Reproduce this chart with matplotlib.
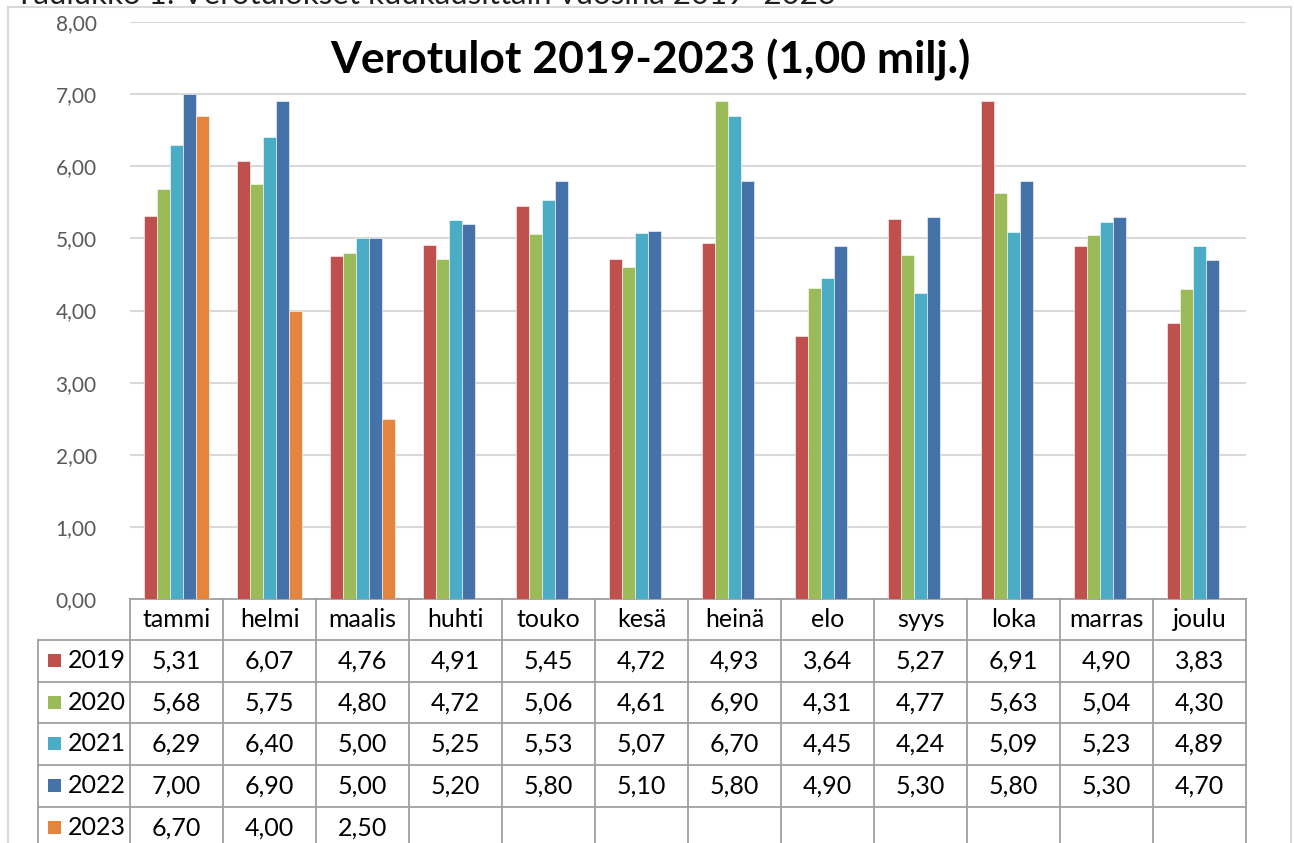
import matplotlib
matplotlib.use("Agg")
import matplotlib.pyplot as plt
from matplotlib.transforms import blended_transform_factory
from matplotlib.patches import Rectangle
import numpy as np

months = ["tammi", "helmi", "maalis", "huhti", "touko", "kesä", "heinä", "elo", "syys", "loka", "marras", "joulu"]
years = ["2019", "2020", "2021", "2022", "2023"]
v2019 = [5.31, 6.07, 4.76, 4.91, 5.45, 4.72, 4.93, 3.64, 5.27, 6.91, 4.90, 3.83]
v2020 = [5.68, 5.75, 4.80, 4.72, 5.06, 4.61, 6.90, 4.31, 4.77, 5.63, 5.04, 4.30]
v2021 = [6.29, 6.40, 5.00, 5.25, 5.53, 5.07, 6.70, 4.45, 4.24, 5.09, 5.23, 4.89]
v2022 = [7.00, 6.90, 5.00, 5.20, 5.80, 5.10, 5.80, 4.90, 5.30, 5.80, 5.30, 4.70]
v2023 = [6.70, 4.00, 2.50]
series = [v2019, v2020, v2021, v2022, v2023]
colors = ["#C0504D", "#9BBB59", "#4BACC6", "#4672AA", "#E3853F"]
yticks = [0, 1, 2, 3, 4, 5, 6, 7, 8]
title = "Verotulot 2019-2023 (1,00 milj.)"
caption = "Taulukko 1: Verotulokset kuukausittain vuosina 2019–2023"

FONT = "Lato"
W, H = 1294, 843
fig = plt.figure(figsize=(W / 100, H / 100), dpi=100)

def fy(py):
    return 1 - py / H

def fx(px):
    return px / W

ax_left, ax_right, ax_top, ax_bot = 130, 1246, 22, 599
ax = fig.add_axes([fx(ax_left), fy(ax_bot), (ax_right - ax_left) / W, (ax_bot - ax_top) / H])
ax.set_xlim(-0.5, len(months) - 0.5)
ax.set_ylim(0, 8)
ax.set_yticks(yticks)
ax.set_yticklabels([f"{t:.2f}".replace(".", ",") for t in yticks], fontsize=15, color="#595959", family=FONT)
ax.tick_params(axis="y", length=0, pad=24)
ax.set_xticks([])
for s in ax.spines.values():
    s.set_visible(False)
ax.grid(axis="y", color="#D9D9D9", lw=1.5)
ax.set_axisbelow(True)

bw = 0.14
x = np.arange(len(months))
for j, vals in enumerate(series):
    xs = x[:len(vals)] + (j - 2) * bw
    ax.bar(xs, vals, width=bw, color=colors[j], edgecolor="white", linewidth=0.4, zorder=3)

# title
fig.text(fx(650), fy(60), title, ha="center", va="center", fontsize=32, fontweight="bold", family=FONT, color="black")
# caption (partially cut off at top, as in the source)
fig.text(fx(15), fy(4), caption, ha="left", va="baseline", fontsize=22.5, family=FONT, color="#202020")

# outer chart border
fig.patches.append(Rectangle((fx(8), fy(H + 20)), fx(1291) - fx(8), fy(7) - fy(H + 20),
                             transform=fig.transFigure, fill=False, edgecolor="#D9D9D9", lw=1.5))

# data table
tr = blended_transform_factory(ax.transData, fig.transFigure)
lc = "#A0A0A0"
lw = 1.3
row_tops = [640, 682, 723, 765, 807]
row_h = 41.75
bottom = H + 5
for b in np.arange(-0.5, len(months) + 0.5, 1):
    ax.plot([b, b], [fy(ax_bot), fy(bottom)], transform=tr, color=lc, lw=lw, clip_on=False)
ax.plot([-0.5, len(months) - 0.5], [fy(ax_bot), fy(ax_bot)], transform=tr, color=lc, lw=lw, clip_on=False)
leg_left = 38
for rt in row_tops:
    fig.add_artist(plt.Line2D([fx(leg_left), fx(ax_left)], [fy(rt), fy(rt)], color=lc, lw=lw))
    ax.plot([-0.5, len(months) - 0.5], [fy(rt), fy(rt)], transform=tr, color=lc, lw=lw, clip_on=False)
fig.add_artist(plt.Line2D([fx(leg_left), fx(leg_left)], [fy(row_tops[0]), fy(bottom)], color=lc, lw=lw))

TFS = 18
for i, m in enumerate(months):
    ax.text(i, fy((ax_bot + row_tops[0]) / 2), m, transform=tr, ha="center", va="center",
            fontsize=TFS, family=FONT, color="black")
for j, (yr, vals) in enumerate(zip(years, series)):
    cy = fy(row_tops[j] + row_h / 2)
    fig.patches.append(Rectangle((fx(48), cy - 6.5 / H), 13 / W, 13 / H, transform=fig.transFigure,
                                 facecolor=colors[j], edgecolor="none"))
    fig.text(fx(68), cy, yr, ha="left", va="center", fontsize=TFS, family=FONT, color="black")
    for i, v in enumerate(vals):
        ax.text(i, cy, f"{v:.2f}".replace(".", ","), transform=tr, ha="center", va="center",
                fontsize=TFS, family=FONT, color="black")

fig.savefig("out.png", dpi=100)
